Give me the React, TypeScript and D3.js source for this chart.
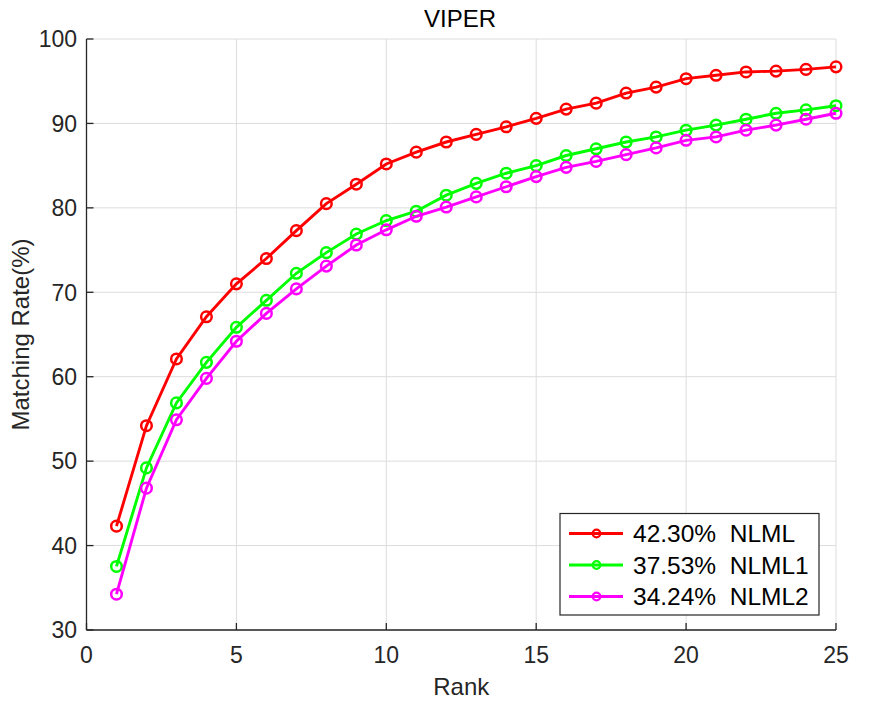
import * as d3 from 'd3'

const ranks = d3.range(1, 26)
const nlml = [42.3, 54.2, 62.1, 67.1, 71.0, 74.0, 77.3, 80.5, 82.8, 85.2, 86.6, 87.8, 88.7, 89.6, 90.6, 91.7, 92.4, 93.6, 94.3, 95.3, 95.7, 96.1, 96.2, 96.4, 96.7]
const nlml1 = [37.53, 49.2, 56.9, 61.7, 65.85, 69.05, 72.25, 74.7, 76.9, 78.5, 79.6, 81.5, 82.9, 84.1, 85.0, 86.2, 87.0, 87.8, 88.4, 89.2, 89.8, 90.5, 91.2, 91.6, 92.1]
const nlml2 = [34.24, 46.8, 54.9, 59.8, 64.2, 67.5, 70.4, 73.1, 75.6, 77.4, 79.0, 80.1, 81.3, 82.5, 83.7, 84.8, 85.5, 86.3, 87.1, 88.0, 88.4, 89.2, 89.8, 90.5, 91.2]
const seriesNames = ['42.30%\u00a0\u00a0NLML', '37.53%\u00a0\u00a0NLML1', '34.24%\u00a0\u00a0NLML2']
const seriesColors = ['#ff0000', '#00ff00', '#ff00ff']
const xTicks = [0, 5, 10, 15, 20, 25]
const yTicks = [30, 40, 50, 60, 70, 80, 90, 100]

const W = 875
const H = 707
const m = { left: 86.5, right: 39, top: 39, bottom: 77 }
const font = 'Arial, "Liberation Sans", Helvetica, sans-serif'
const axisColor = '#262626'

export default function App() {
  const x = d3.scaleLinear().domain([0, 25]).range([m.left, W - m.right])
  const y = d3.scaleLinear().domain([30, 100]).range([H - m.bottom, m.top])
  const all = [nlml, nlml1, nlml2]
  const line = d3
    .line<number>()
    .x((_, i) => x(ranks[i]))
    .y((d) => y(d))

  const legX = 560
  const legY = 513.5
  const legW = 259
  const legH = 101.5
  const rowY = [533.5, 565, 596.5]

  return (
    <svg width={W} height={H} style={{ position: 'absolute', left: 0, top: 0, background: '#fff' }} fontFamily={font}>
      {/* grid */}
      {xTicks.map((t) => (
        <line key={'gx' + t} x1={x(t)} x2={x(t)} y1={y(30)} y2={y(100)} stroke="#dcdcdc" strokeWidth={1} />
      ))}
      {yTicks.map((t) => (
        <line key={'gy' + t} x1={x(0)} x2={x(25)} y1={y(t)} y2={y(t)} stroke="#dcdcdc" strokeWidth={1} />
      ))}

      {/* axes */}
      <line x1={x(0)} x2={x(0)} y1={y(30)} y2={y(100)} stroke={axisColor} strokeWidth={1.3} />
      <line x1={x(0)} x2={x(25)} y1={y(30)} y2={y(30)} stroke={axisColor} strokeWidth={1.3} />
      {yTicks.map((t) => (
        <g key={'ty' + t}>
          <line x1={x(0)} x2={x(0) + 7} y1={y(t)} y2={y(t)} stroke={axisColor} strokeWidth={1.3} />
          <text x={x(0) - 9.5} y={y(t)} dy="0.36em" textAnchor="end" fontSize={23} fill={axisColor}>
            {t}
          </text>
        </g>
      ))}
      {xTicks.map((t) => (
        <g key={'tx' + t}>
          <line x1={x(t)} x2={x(t)} y1={y(30)} y2={y(30) - 7} stroke={axisColor} strokeWidth={1.3} />
          <text x={x(t)} y={663} textAnchor="middle" fontSize={23} fill={axisColor}>
            {t}
          </text>
        </g>
      ))}

      {/* series */}
      {all.map((s, k) => (
        <g key={'s' + k}>
          <path d={line(s) ?? ''} fill="none" stroke={seriesColors[k]} strokeWidth={2.9} />
          {s.map((v, i) => (
            <circle key={i} cx={x(ranks[i])} cy={y(v)} r={5.3} fill="none" stroke={seriesColors[k]} strokeWidth={2.5} />
          ))}
        </g>
      ))}

      {/* labels */}
      <text x={460} y={26.5} textAnchor="middle" fontSize={24} fill="#000">
        VIPER
      </text>
      <text x={(x(0) + x(25)) / 2} y={695} textAnchor="middle" fontSize={24} fill={axisColor}>
        Rank
      </text>
      <text
        transform={`translate(29,${(y(30) + y(100)) / 2}) rotate(-90)`}
        textAnchor="middle"
        fontSize={24}
        fill={axisColor}
      >
        Matching Rate(%)
      </text>

      {/* legend */}
      <rect x={legX} y={legY} width={legW} height={legH} fill="#fff" stroke={axisColor} strokeWidth={1.2} />
      {seriesNames.map((n, k) => (
        <g key={'l' + k}>
          <line x1={569} x2={623} y1={rowY[k]} y2={rowY[k]} stroke={seriesColors[k]} strokeWidth={2.8} />
          <circle cx={596.5} cy={rowY[k]} r={3.8} fill="none" stroke={seriesColors[k]} strokeWidth={2.2} />
          <text x={633} y={rowY[k]} dy="0.36em" fontSize={24.5} fill="#000">
            {n}
          </text>
        </g>
      ))}
    </svg>
  )
}
